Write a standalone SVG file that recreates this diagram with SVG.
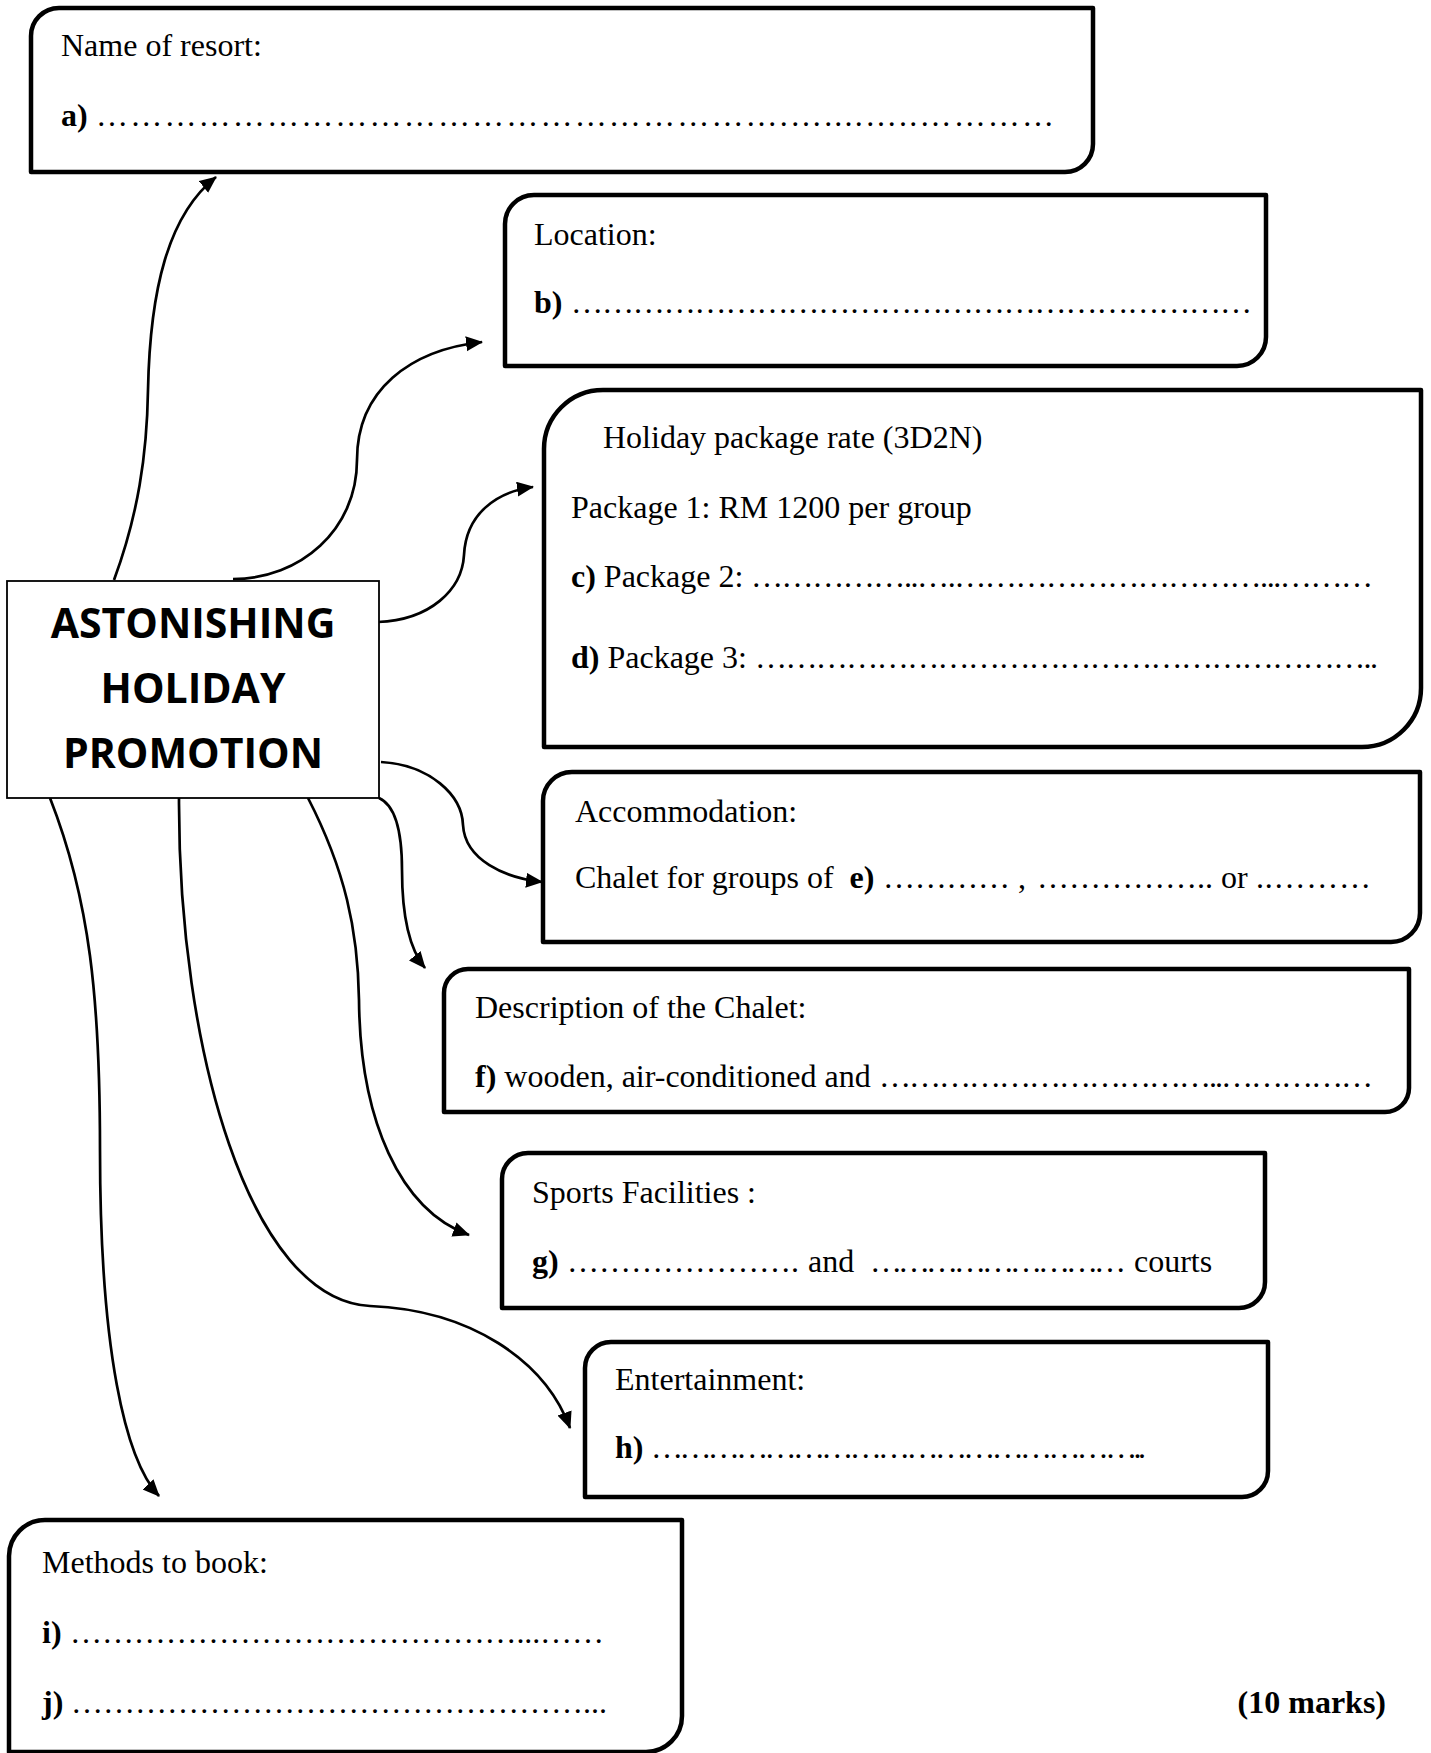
<svg xmlns="http://www.w3.org/2000/svg" width="1431" height="1753" viewBox="0 0 1431 1753">
<style>
.box{fill:#fff;stroke:#000;stroke-width:4.5;stroke-linejoin:round}
.center{fill:#fff;stroke:#000;stroke-width:1.8}
.t{font-family:"Liberation Serif","Times New Roman",serif;font-size:32px;fill:#000}
.b{font-weight:bold}
.title{font-family:"Open Sans","Liberation Sans",sans-serif;font-weight:700;font-size:41px;fill:#000;text-anchor:middle}
.con{fill:none;stroke:#000;stroke-width:2.7}
</style>
<defs>
<marker id="arr" markerUnits="userSpaceOnUse" markerWidth="18" markerHeight="16" refX="16" refY="7.5" orient="auto">
<path d="M0,0 L17,7.5 L0,15 Z" fill="#000"/>
</marker>
</defs>
<rect width="1431" height="1753" fill="#fff"/>
<g id="connectors">
<path class="con" marker-end="url(#arr)" d="M114,580 C138,515 147,455 148,390 C150,290 168,215 216,177"/>
<path class="con" marker-end="url(#arr)" d="M233,579 C300,579 357,530 357,460 C357,390 410,350 482,342"/>
<path class="con" marker-end="url(#arr)" d="M378,622 C430,620 462,590 464,555 C466,515 495,492 533,487"/>
<path class="con" marker-end="url(#arr)" d="M381,762 C430,765 462,795 463,825 C465,860 505,878 542,882"/>
<path class="con" marker-end="url(#arr)" d="M379,798 C395,805 402,830 402,870 C402,920 410,950 425,968"/>
<path class="con" marker-end="url(#arr)" d="M308,798 C345,870 358,930 359,1000 C360,1120 400,1210 469,1235"/>
<path class="con" marker-end="url(#arr)" d="M179,798 C178,1050 250,1300 370,1306 C470,1310 545,1360 570,1428"/>
<path class="con" marker-end="url(#arr)" d="M50,798 C90,900 100,1000 100,1150 C100,1350 125,1460 159,1496"/>
</g>
<g id="node-center">
<rect class="center" x="7" y="581" width="372" height="217"/>
<text class="title" x="193" y="638">ASTONISHING</text>
<text class="title" x="193" y="703">HOLIDAY</text>
<text class="title" x="193" y="768">PROMOTION</text>
</g>
<g id="node-a">
<path class="box" d="M59,8 H1093 V144 A28,28 0 0 1 1065,172 H31 V36 A28,28 0 0 1 59,8 Z"/>
<text class="t" x="61" y="56">Name of resort:</text>
<text class="t b" x="61" y="126">a)</text>
<text class="t" x="96" y="126" textLength="958" lengthAdjust="spacing">…………………………………………………….…....…..…………</text>
</g>
<g id="node-b">
<path class="box" d="M534,195 H1266 V337 A29,29 0 0 1 1237,366 H505 V224 A29,29 0 0 1 534,195 Z"/>
<text class="t" x="534" y="245">Location:</text>
<text class="t b" x="534" y="313">b)</text>
<text class="t" x="571" y="313" textLength="681" lengthAdjust="spacing">…………………………………………………………</text>
</g>
<g id="node-c">
<path class="box" d="M603,390 H1421 V688 A59,59 0 0 1 1362,747 H544 V449 A59,59 0 0 1 603,390 Z"/>
<text class="t" x="603" y="448">Holiday package rate (3D2N)</text>
<text class="t" x="571" y="518">Package 1: RM 1200 per group</text>
<text class="t" x="571" y="587" xml:space="preserve"><tspan class="b">c)</tspan> Package 2:</text>
<text class="t" x="751" y="587" textLength="622" lengthAdjust="spacing">……………..….…………………………...………</text>
<text class="t" x="571" y="668" xml:space="preserve"><tspan class="b">d)</tspan> Package 3:</text>
<text class="t" x="755" y="668" textLength="623" lengthAdjust="spacing">……………………………………………………..</text>
</g>
<g id="node-e">
<path class="box" d="M572,772 H1420 V913 A29,29 0 0 1 1391,942 H543 V801 A29,29 0 0 1 572,772 Z"/>
<text class="t" x="575" y="822">Accommodation:</text>
<text class="t" x="575" y="888" xml:space="preserve">Chalet for groups of  <tspan class="b">e)</tspan></text>
<text class="t" x="883" y="888" textLength="127" lengthAdjust="spacing">…………</text>
<text class="t" x="1018" y="888">,</text>
<text class="t" x="1037" y="888" textLength="176" lengthAdjust="spacing">……………..</text>
<text class="t" x="1221" y="888">or</text>
<text class="t" x="1256" y="888" textLength="115" lengthAdjust="spacing">..………</text>
</g>
<g id="node-f">
<path class="box" d="M468,969 H1409 V1088 A24,24 0 0 1 1385,1112 H444 V993 A24,24 0 0 1 468,969 Z"/>
<text class="t" x="475" y="1018">Description of the Chalet:</text>
<text class="t" x="475" y="1087" xml:space="preserve"><tspan class="b">f)</tspan> wooden, air-conditioned and</text>
<text class="t" x="879" y="1087" textLength="494" lengthAdjust="spacing">……………………………..……………</text>
</g>
<g id="node-g">
<path class="box" d="M528,1153 H1265 V1282 A26,26 0 0 1 1239,1308 H502 V1179 A26,26 0 0 1 528,1153 Z"/>
<text class="t" x="532" y="1203">Sports Facilities :</text>
<text class="t b" x="532" y="1272">g)</text>
<text class="t" x="567" y="1272" textLength="232" lengthAdjust="spacing">………………….</text>
<text class="t" x="808" y="1272">and</text>
<text class="t" x="870" y="1272" textLength="256" lengthAdjust="spacing">………………………</text>
<text class="t" x="1134" y="1272">courts</text>
</g>
<g id="node-h">
<path class="box" d="M611,1342 H1268 V1471 A26,26 0 0 1 1242,1497 H585 V1368 A26,26 0 0 1 611,1342 Z"/>
<text class="t" x="615" y="1390">Entertainment:</text>
<text class="t b" x="615" y="1458">h)</text>
<text class="t" x="651" y="1458" textLength="495" lengthAdjust="spacing">……………………………………………..</text>
</g>
<g id="node-ij">
<path class="box" d="M45,1520 H682 V1716 A36,36 0 0 1 646,1752 H9 V1556 A36,36 0 0 1 45,1520 Z"/>
<text class="t" x="42" y="1573">Methods to book:</text>
<text class="t b" x="42" y="1643">i)</text>
<text class="t" x="70" y="1643" textLength="534" lengthAdjust="spacing">……………………………………...……</text>
<text class="t b" x="42" y="1713">j)</text>
<text class="t" x="71" y="1713" textLength="536" lengthAdjust="spacing">…………………………………………...</text>
</g>
<text class="t b" x="1386" y="1713" text-anchor="end">(10 marks)</text>
</svg>
